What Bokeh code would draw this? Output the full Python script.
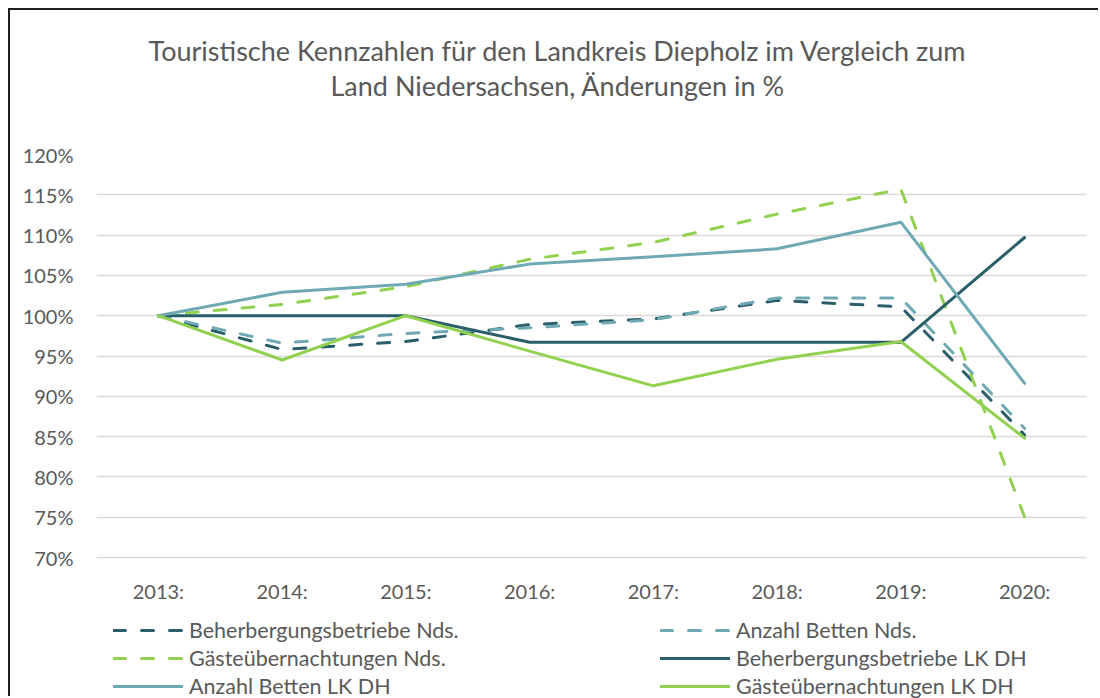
from bokeh.plotting import figure
from bokeh.models import (Range1d, FactorRange, FixedTicker, PrintfTickFormatter,
                          Legend, LegendItem, Title)
from bokeh.core.properties import value
from bokeh.embed import file_html
from bokeh.resources import INLINE

years = ["2013:", "2014:", "2015:", "2016:", "2017:", "2018:", "2019:", "2020:"]
beherbergung_nds = [100, 95.8, 96.8, 98.9, 99.6, 101.9, 101.1, 85.2]
betten_nds = [100, 96.6, 97.8, 98.5, 99.5, 102.2, 102.2, 86.0]
gaeste_nds = [100, 101.4, 103.6, 107.0, 109.1, 112.6, 115.7, 75.0]
beherbergung_dh = [100, 100, 100, 96.7, 96.7, 96.7, 96.7, 109.7]
betten_dh = [100, 102.9, 103.9, 106.4, 107.3, 108.3, 111.6, 91.6]
gaeste_dh = [100, 94.5, 100, 95.6, 91.3, 94.6, 96.8, 84.8]
y_ticks = [70, 75, 80, 85, 90, 95, 100, 105, 110, 115, 120]

names = ["Beherbergungsbetriebe Nds.", "Anzahl Betten Nds.", "Gästeübernachtungen Nds.",
         "Beherbergungsbetriebe LK DH", "Anzahl Betten LK DH", "Gästeübernachtungen LK DH"]
series = [beherbergung_nds, betten_nds, gaeste_nds, beherbergung_dh, betten_dh, gaeste_dh]

DARK = "#2a5f6a"
LIGHT = "#6fa9b3"
GREEN = "#92d050"
colors = [DARK, LIGHT, GREEN, DARK, LIGHT, GREEN]
dashes = ["12 16", "12 16", "12 16", "solid", "solid", "solid"]

FONT = "Lato"
TXT = "#595959"

Y_MIN, Y_MAX = 70, 120
PX_PER_UNIT = 403 / (Y_MAX - Y_MIN)
FRAME_H = 544
y_start = Y_MAX - FRAME_H / PX_PER_UNIT

p = figure(width=1090, height=688, x_range=FactorRange(*years),
           y_range=Range1d(y_start, Y_MAX),
           output_backend="svg", toolbar_location=None,
           min_border_left=86, min_border_right=14, min_border_top=144, min_border_bottom=0)
p.styles = {"margin-left": "8px", "margin-top": "8px",
            "border-left": "2px solid #1e1e1e", "border-top": "2px solid #1e1e1e"}

title_kw = dict(align="left", text_font=FONT, text_font_size="27px",
                text_font_style="normal", text_color=TXT)
p.title.text = "Touristische Kennzahlen für den Landkreis Diepholz im Vergleich zum"
for k, v in title_kw.items():
    setattr(p.title, k, v)
p.title.offset = 52
p.title.standoff = 0
p.add_layout(Title(text=" ", text_font_size="1px", standoff=50), "above")
p.add_layout(Title(text="Land Niedersachsen, Änderungen in %", standoff=0, offset=234,
                   **title_kw), "above")

renderers = []
for vals, c, d in zip(series, colors, dashes):
    r = p.line(years, vals, line_color=c, line_width=3, line_dash=d, line_cap="round",
               line_join="round")
    renderers.append(r)

# category labels under the 70% gridline
label_y = Y_MIN - 33 / PX_PER_UNIT
p.text(x=years, y=[label_y] * len(years), text=years, text_align="center",
       text_baseline="middle", text_font=value(FONT), text_font_size="20px",
       text_color=TXT)

p.outline_line_color = None
p.xaxis.visible = False
p.xgrid.grid_line_color = None
p.ygrid.grid_line_color = "#d9d9d9"
p.ygrid.grid_line_width = 1.3
p.yaxis.ticker = FixedTicker(ticks=y_ticks)
p.yaxis.formatter = PrintfTickFormatter(format="%d%%")
ax = p.yaxis
ax.axis_line_color = None
ax.major_tick_line_color = None
ax.minor_tick_line_color = None
ax.major_tick_out = 0
ax.major_label_text_font = FONT
ax.major_label_text_font_size = "20px"
ax.major_label_text_color = TXT
ax.major_label_standoff = 23

leg_style = dict(label_text_font=FONT, label_text_font_size="21.5px", label_text_color=TXT,
                 glyph_width=70, glyph_height=28, label_height=28,
                 label_standoff=6, spacing=0, padding=0, margin=0,
                 border_line_color=None, background_fill_alpha=0)
left_items = [LegendItem(label=names[i], renderers=[renderers[i]]) for i in (0, 2, 4)]
right_items = [LegendItem(label=names[i], renderers=[renderers[i]]) for i in (1, 3, 5)]
p.add_layout(Legend(items=left_items, location=(17, -2), **leg_style))
p.add_layout(Legend(items=right_items, location=(564, -2), **leg_style))

open("out.html", "w").write(file_html(p, INLINE))
